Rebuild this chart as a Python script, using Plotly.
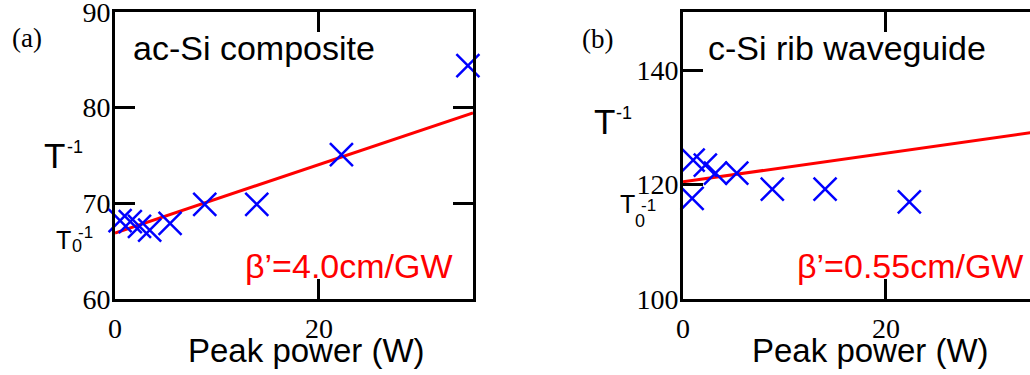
import plotly.graph_objects as go

# ---------------- data ----------------
# panel (a): ac-Si composite
a_power = [0.5, 1.5, 2.4, 3.4, 5.4, 8.8, 13.9, 22.2, 34.6]
a_tinv = [68.2, 68.1, 67.6, 67.2, 67.9, 69.9, 69.9, 75.1, 84.4]
a_fit_power = [0, 35.1]
a_fit_tinv = [66.9, 79.45]

# panel (b): c-Si rib waveguide
b_power = [0.9, 1.0, 2.2, 3.2, 5.3, 8.8, 14.0, 22.3, 35.0]
b_tinv = [117.6, 124.3, 123.4, 122.0, 122.0, 119.2, 119.2, 117.0, 128.9]
b_fit_power = [0, 35.1]
b_fit_tinv = [120.5, 129.3]

a_yticks = [60, 70, 80, 90]
b_yticks = [100, 120, 140]
x_ticks = [0, 20]

W, H = 1030, 375
SERIF = "Liberation Serif"
SANS = "Liberation Sans"
BLUE = "#0000ff"
RED = "#ff0000"

fig = go.Figure()

marker = dict(symbol="x-thin", size=23, color=BLUE, line=dict(color=BLUE, width=2.5))

fig.add_trace(go.Scatter(x=a_fit_power, y=a_fit_tinv, mode="lines",
                         line=dict(color=RED, width=3), xaxis="x", yaxis="y",
                         showlegend=False))
fig.add_trace(go.Scatter(x=a_power, y=a_tinv, mode="markers", marker=marker,
                         xaxis="x", yaxis="y", showlegend=False, cliponaxis=False))
fig.add_trace(go.Scatter(x=b_fit_power, y=b_fit_tinv, mode="lines",
                         line=dict(color=RED, width=3), xaxis="x2", yaxis="y2",
                         showlegend=False))
fig.add_trace(go.Scatter(x=b_power, y=b_tinv, mode="markers", marker=marker,
                         xaxis="x2", yaxis="y2", showlegend=False, cliponaxis=False))

ydom = [(H - 299) / H, (H - 12) / H]


def axis(**kw):
    d = dict(showline=True, linewidth=3, linecolor="black", ticks="inside",
             ticklen=20, tickwidth=3, tickcolor="black", showgrid=False,
             zeroline=False, automargin=False, ticklabeloverflow="allow",
             tickfont=dict(family=SERIF, size=28, color="black"))
    d.update(kw)
    return d


fig.update_layout(
    template="none",
    font=dict(family=SERIF, size=28, color="black"),
    width=W, height=H, margin=dict(l=0, r=0, t=0, b=0, pad=0),
    paper_bgcolor="white", plot_bgcolor="white",
    xaxis=axis(domain=[115 / W, 473 / W], range=[0, 35.1], tickvals=x_ticks,
               mirror="ticks", anchor="y", ticklabelstandoff=2),
    yaxis=axis(domain=ydom, range=[60, 90], tickvals=a_yticks,
               mirror="ticks", anchor="x", ticklabelstandoff=-4),
    xaxis2=axis(domain=[683 / W, 1.0], range=[0, 34.19], tickvals=x_ticks,
                mirror="ticks", anchor="y2", ticklabelstandoff=2),
    yaxis2=axis(domain=ydom, range=[100, 150.2], tickvals=b_yticks,
                mirror=False, anchor="x2", ticklabelstandoff=-4),
    yaxis3=dict(overlaying="y2", anchor="x2", side="right", range=[100, 150.2],
                tickvals=[120, 140], ticks="inside", ticklen=10, tickwidth=3,
                tickcolor="black", showticklabels=False, showline=False,
                showgrid=False, zeroline=False, automargin=False),
)


def ann(text, px, py, size, family=SANS, color="black", xa="center", ya="middle"):
    fig.add_annotation(text=text, x=px / W, y=1 - py / H, xref="paper", yref="paper",
                       xanchor=xa, yanchor=ya, showarrow=False,
                       font=dict(family=family, size=size, color=color))


# panel labels
ann("(a)", 27, 38, 27, SERIF)
ann("(b)", 597, 39, 27, SERIF)
# titles
ann("ac-Si composite", 131, 48, 34, xa="left")
ann("c-Si rib waveguide", 706, 48, 34, xa="left")
# beta annotations
ann("β’=4.0cm/GW", 455, 266, 34, color=RED, xa="right")
ann("β’=0.55cm/GW", 1025, 266, 34, color=RED, xa="right")
# x axis titles
ann("Peak power (W)", 306, 350, 33)
ann("Peak power (W)", 870, 350, 33)
# y labels panel a
ann("T", 54, 156, 35)
ann("-1", 75, 147, 18)
ann("T", 63, 240, 25)
ann("0", 77, 246, 18)
ann("-1", 85, 232, 17)
# y labels panel b
ann("T", 604, 121, 35)
ann("-1", 624, 113, 18)
ann("T", 627, 204, 25)
ann("0", 640, 221, 18)
ann("-1", 648, 205, 17)

fig.write_html("out.html")
